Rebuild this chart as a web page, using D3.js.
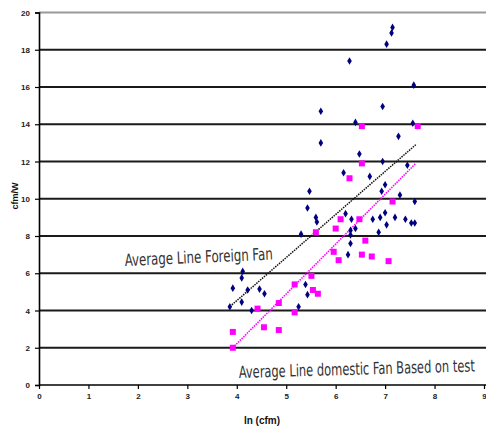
<!DOCTYPE html>
<html>
<head>
<meta charset="utf-8">
<script src="https://cdn.jsdelivr.net/npm/d3@7"></script>
<style>
  body { margin: 0; background: #fff; }
  svg { display: block; }
</style>
</head>
<body>
<div id="chart"></div>
<script>
// foreign fan measurements [ln(cfm), cfm/W]
var foreignFan = [
  [7.15, 19.2], [7.13, 18.9], [7.03, 18.3], [6.28, 17.4], [7.58, 16.1],
  [6.95, 14.95], [6.40, 14.1], [7.56, 14.05], [7.27, 13.35], [5.70, 14.7],
  [5.70, 13.0], [6.48, 12.4], [6.95, 12.0], [6.16, 11.4], [6.69, 11.2],
  [7.45, 11.8], [6.93, 10.4], [7.00, 10.75], [7.30, 10.2], [7.60, 9.85],
  [6.20, 9.2], [6.32, 8.9], [6.75, 8.9], [6.90, 9.0], [7.00, 9.25],
  [7.20, 9.0], [7.41, 8.9], [7.53, 8.7], [7.60, 8.7], [7.03, 8.6],
  [6.40, 8.4], [6.30, 8.3], [6.30, 8.05], [6.87, 8.2], [6.30, 7.6],
  [6.25, 7.0], [5.47, 10.4], [5.43, 9.5], [5.60, 9.0], [5.62, 8.75],
  [5.30, 8.1], [4.12, 6.1], [4.10, 5.75], [3.92, 5.2], [4.22, 5.1],
  [4.46, 5.15], [4.56, 4.9], [4.10, 4.45], [3.86, 4.2], [4.30, 4.0],
  [5.25, 4.2], [5.39, 5.4], [5.43, 4.85]
];

// domestic fan measurements
var domesticFan = [
  [6.53, 13.9], [7.66, 13.9], [6.53, 11.9], [6.28, 11.1], [7.15, 9.85],
  [6.10, 8.9], [6.48, 8.9], [6.00, 8.4], [6.60, 7.75], [5.96, 7.15],
  [6.06, 6.7], [6.53, 7.0], [6.73, 6.9], [7.07, 6.65], [5.51, 5.86],
  [5.54, 5.1], [5.64, 4.9], [5.60, 8.2], [5.17, 5.4], [4.85, 4.4],
  [4.42, 4.1], [5.17, 3.9], [4.55, 3.1], [4.85, 2.95], [3.92, 2.85],
  [3.92, 2.0]
];

// average lines (end points)
var foreignLine = [[3.9, 4.3], [7.62, 12.9]];
var domesticLine = [[3.92, 2.0], [7.62, 11.9]];

var xTicks = [0, 1, 2, 3, 4, 5, 6, 7, 8, 9];
var yTicks = [0, 2, 4, 6, 8, 10, 12, 14, 16, 18, 20];

var xTitle = "ln (cfm)";
var yTitle = "cfm/W";
var foreignLabel = "Average Line Foreign Fan";
var domesticLabel = "Average Line domestic Fan Based on test";

var w = 486, h = 428;

var svg = d3.select("#chart")
  .append("svg")
  .attr("width", w)
  .attr("height", h);

var x = d3.scaleLinear().domain([0, 9]).range([39, 484]);
var y = d3.scaleLinear().domain([0, 20]).range([385, 12.5]);

var tickFont = "'Liberation Sans Narrow', 'Liberation Sans', Arial, sans-serif";
var labelFont = "'DejaVu Sans Condensed', 'DejaVu Sans', sans-serif";

// gridlines
svg.append("g")
  .selectAll("line")
  .data(yTicks.filter(function(d) { return d > 0; }))
  .enter()
  .append("line")
  .attr("x1", x(0))
  .attr("x2", w)
  .attr("y1", function(d) { return y(d); })
  .attr("y2", function(d) { return y(d); })
  .attr("stroke", function(d) { return d === 20 ? "#9a9a9a" : "#1a1a1a"; })
  .attr("stroke-width", 2);

// axes
var xAxis = svg.append("g")
  .attr("transform", "translate(0," + y(0) + ")")
  .call(d3.axisBottom(x).tickValues(xTicks).tickSize(4).tickPadding(4).tickFormat(d3.format("d")));

var yAxis = svg.append("g")
  .attr("transform", "translate(" + x(0) + ",0)")
  .call(d3.axisLeft(y).tickValues(yTicks).tickSize(4).tickPadding(5).tickFormat(d3.format("d")));

[xAxis, yAxis].forEach(function(a) {
  a.select(".domain").attr("stroke", "#000").attr("stroke-width", 1.6);
  a.selectAll(".tick line").attr("stroke", "#000").attr("stroke-width", 1.2);
  a.selectAll(".tick text")
    .attr("font-family", tickFont)
    .attr("font-weight", "bold")
    .attr("font-size", 8)
    .attr("fill", "#222");
});
// x axis line runs to the right edge
xAxis.select(".domain").attr("d", "M" + x(0) + ",0H" + w);

// axis titles
svg.append("text")
  .attr("x", 262)
  .attr("y", 424)
  .attr("text-anchor", "middle")
  .attr("font-family", tickFont)
  .attr("font-weight", "bold")
  .attr("font-size", 10)
  .attr("fill", "#111")
  .text(xTitle);

svg.append("text")
  .attr("transform", "translate(18,196) rotate(-90)")
  .attr("text-anchor", "middle")
  .attr("font-family", tickFont)
  .attr("font-weight", "bold")
  .attr("font-size", 9)
  .attr("fill", "#111")
  .text(yTitle);

// average lines
var line = d3.line()
  .x(function(d) { return x(d[0]); })
  .y(function(d) { return y(d[1]); });

svg.append("path")
  .datum(foreignLine)
  .attr("d", line)
  .attr("fill", "none")
  .attr("stroke", "#111")
  .attr("stroke-width", 1.5)
  .attr("stroke-dasharray", "1.5,1");

svg.append("path")
  .datum(domesticLine)
  .attr("d", line)
  .attr("fill", "none")
  .attr("stroke", "#ff00ff")
  .attr("stroke-width", 1.6)
  .attr("stroke-dasharray", "1.5,1");

// domestic squares
svg.append("g")
  .selectAll("rect")
  .data(domesticFan)
  .enter()
  .append("rect")
  .attr("x", function(d) { return x(d[0]) - 3; })
  .attr("y", function(d) { return y(d[1]) - 3; })
  .attr("width", 6)
  .attr("height", 6)
  .attr("fill", "#ff00ff");

// foreign diamonds
var diamond = "M0,-3.8L2.3,0L0,3.8L-2.3,0Z";
svg.append("g")
  .selectAll("path")
  .data(foreignFan)
  .enter()
  .append("path")
  .attr("transform", function(d) { return "translate(" + x(d[0]) + "," + y(d[1]) + ")"; })
  .attr("d", diamond)
  .attr("fill", "#000080");

// line labels (tall, narrow lettering)
svg.append("text")
  .attr("transform", "translate(125,266) rotate(-2.5) scale(1,1.4)")
  .attr("font-family", labelFont)
  .attr("font-size", 12)
  .attr("fill", "#333")
  .attr("textLength", 148)
  .attr("lengthAdjust", "spacingAndGlyphs")
  .text(foreignLabel);

svg.append("text")
  .attr("transform", "translate(239,378) rotate(-1.6) scale(1,1.4)")
  .attr("font-family", labelFont)
  .attr("font-size", 12)
  .attr("fill", "#333")
  .attr("textLength", 236)
  .attr("lengthAdjust", "spacingAndGlyphs")
  .text(domesticLabel);
</script>
</body>
</html>
